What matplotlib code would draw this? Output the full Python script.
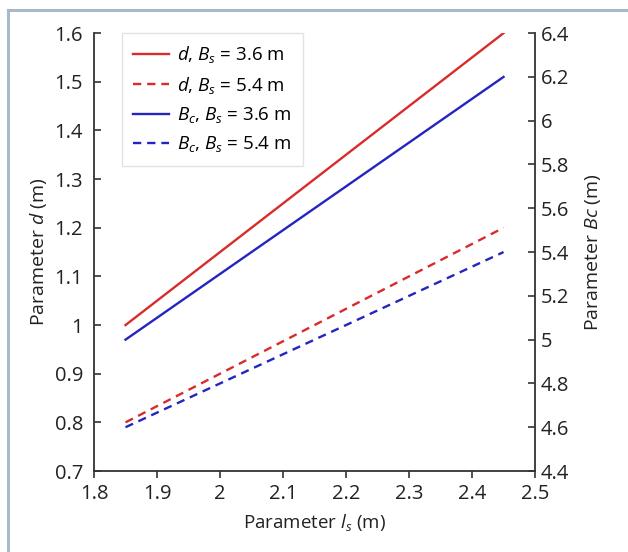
import matplotlib
matplotlib.use("Agg")
import matplotlib.pyplot as plt
from matplotlib.ticker import FuncFormatter, MultipleLocator
from matplotlib.lines import Line2D

plt.rcParams['font.family'] = ['Open Sans', 'DejaVu Sans']
plt.rcParams['mathtext.fontset'] = 'custom'
plt.rcParams['mathtext.it'] = 'Open Sans:italic'
plt.rcParams['mathtext.rm'] = 'Open Sans'

# Data
ls = [1.85, 2.45]
d_bs36 = [1.0, 1.6]
d_bs54 = [0.8, 1.2]
bc_bs36 = [5.0, 6.2]
bc_bs54 = [4.6, 5.4]

RED = '#d92b2b'
BLUE = '#2424c0'
FS = 14.5
LFS = 13.5

fig = plt.figure(figsize=(6.28, 5.52), dpi=100)
ax = fig.add_axes([0.1497, 0.1467, 0.852 - 0.1497, 0.940 - 0.1467])
ax2 = ax.twinx()

l1, = ax.plot(ls, d_bs36, color=RED, lw=1.7, label=r'$d$, $B_s$ = 3.6 m')
l2, = ax.plot(ls, d_bs54, color=RED, lw=1.7, ls=(0, (3.5, 2.5)), label=r'$d$, $B_s$ = 5.4 m')
l3, = ax2.plot(ls, bc_bs36, color=BLUE, lw=1.7, label=r'$B_c$, $B_s$ = 3.6 m')
l4, = ax2.plot(ls, bc_bs54, color=BLUE, lw=1.7, ls=(0, (3.5, 2.5)), label=r'$B_c$, $B_s$ = 5.4 m')

ax.set_xlim(1.8, 2.5)
ax.set_ylim(0.7, 1.6)
ax2.set_ylim(4.4, 6.4)
ax.xaxis.set_major_locator(MultipleLocator(0.1))
ax.yaxis.set_major_locator(MultipleLocator(0.1))
ax2.yaxis.set_major_locator(MultipleLocator(0.2))
fmt = FuncFormatter(lambda v, p: ('%.1f' % v).rstrip('0').rstrip('.'))
ax.xaxis.set_major_formatter(fmt)
ax.yaxis.set_major_formatter(fmt)
ax2.yaxis.set_major_formatter(fmt)

for a in (ax, ax2):
    a.spines['top'].set_visible(False)
    for s in a.spines.values():
        s.set_color('#333333')
        s.set_linewidth(1.3)
ax.spines['right'].set_visible(False)
ax2.spines['left'].set_visible(False)
ax2.spines['bottom'].set_visible(False)

ax.tick_params(axis='x', direction='out', length=5, width=1.2, labelsize=FS, colors='#333333', labelcolor='#222222', pad=4)
ax.tick_params(axis='y', direction='in', length=5, width=1.2, labelsize=FS, colors='#333333', labelcolor='#222222', pad=8)
ax2.tick_params(axis='y', direction='in', length=5, width=1.2, labelsize=FS, colors='#333333', labelcolor='#222222', pad=4)

ax.set_xlabel(r'Parameter $l_s$ (m)', fontsize=LFS, color='#222222', labelpad=6)
ax.set_ylabel(r'Parameter $d$ (m)', fontsize=LFS + 0.5, color='#222222', labelpad=4)
ax2.set_ylabel(r'Parameter $Bc$ (m)', fontsize=LFS + 0.5, color='#222222', labelpad=10)

leg = ax.legend(handles=[l1, l2, l3, l4], loc='upper left', bbox_to_anchor=(0.063, 1.0),
                borderaxespad=0.0,
                fontsize=LFS, frameon=True, fancybox=False, edgecolor='#dddddd',
                handlelength=1.9, handletextpad=0.45, labelspacing=0.5, borderpad=0.6)
leg.get_frame().set_linewidth(1.0)

# outer frame (left and top edges visible)
x0 = 8 / 628
y0 = 1 - 10 / 552
fig.lines.append(Line2D([x0, x0], [0, y0], transform=fig.transFigure, color='#a9b9cc', lw=2.2))
fig.lines.append(Line2D([x0, 1.0], [y0, y0], transform=fig.transFigure, color='#a9b9cc', lw=2.2))

fig.savefig('out.png', dpi=100)
